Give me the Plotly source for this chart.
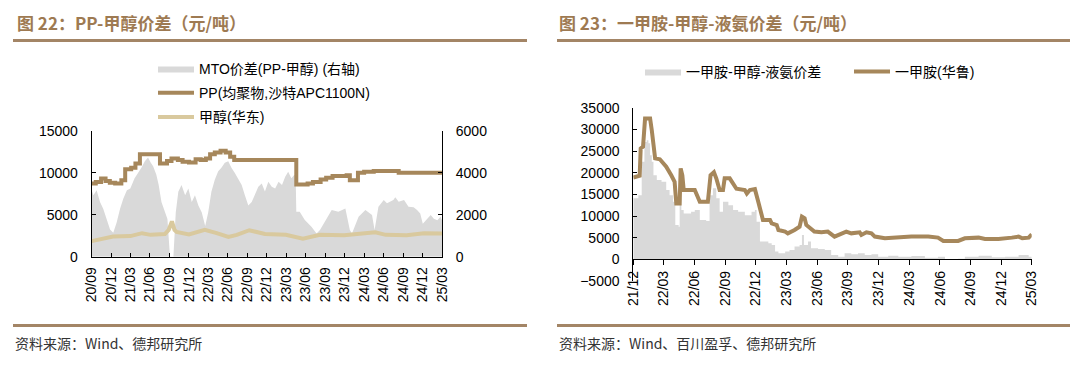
import plotly.graph_objects as go

# ---------------- Left chart data (图22) ----------------
pp_dates = ["2020-09-01", "2020-09-20", "2020-10-15", "2020-11-05", "2020-11-25", "2020-12-20",
            "2021-01-18", "2021-02-05", "2021-03-05", "2021-03-25", "2021-04-15", "2021-07-18",
            "2021-08-20", "2021-09-10", "2021-10-10", "2021-11-01", "2021-12-01", "2022-01-01",
            "2022-01-25", "2022-02-18", "2022-03-10", "2022-04-01", "2022-04-28", "2022-05-22",
            "2022-06-12", "2022-07-01", "2023-04-18", "2023-06-10", "2023-07-05", "2023-08-10",
            "2023-09-05", "2023-10-05", "2023-12-10", "2023-12-25", "2024-02-01", "2024-03-01",
            "2024-04-15", "2024-08-10", "2025-03-01"]
pp_values = [8700, 8900, 9300, 9000, 8800, 8700,
             9100, 10400, 10600, 11100, 12200, 11100,
             11400, 11700, 11500, 11300, 11200, 11600,
             11500, 11700, 12200, 12400, 12600, 12400,
             11900, 11500, 8600, 8700, 8900, 9200,
             9400, 9600, 9700, 9100, 10000, 10100,
             10200, 10000, 10000]

meoh_dates = ["2020-09-01", "2020-10-21", "2020-12-10", "2021-03-01", "2021-04-25", "2021-06-04",
              "2021-08-10", "2021-08-28", "2021-09-12", "2021-09-24", "2021-10-04", "2021-12-01",
              "2022-02-13", "2022-04-10", "2022-06-04", "2022-07-13", "2022-09-10", "2022-11-22",
              "2023-02-28", "2023-05-19", "2023-08-07", "2023-11-28", "2024-02-19", "2024-04-22",
              "2024-06-10", "2024-09-16", "2024-12-07", "2025-03-01"]
meoh_values = [1850, 2150, 2400, 2450, 2800, 2600,
               2700, 3200, 4200, 3200, 2950, 2650,
               3200, 2800, 2350, 2600, 3150, 2700,
               2600, 2150, 2600, 2550, 2700, 2900,
               2600, 2550, 2800, 2750]

mto_dates = ["2020-09-01", "2020-09-09", "2020-09-24", "2020-10-10", "2020-10-25", "2020-11-10",
             "2020-11-26", "2020-12-11", "2020-12-27", "2021-01-12", "2021-01-27", "2021-02-13",
             "2021-03-01", "2021-03-21", "2021-04-07", "2021-04-22", "2021-05-08", "2021-05-23",
             "2021-06-05", "2021-06-16", "2021-07-01", "2021-07-12", "2021-07-25", "2021-08-10",
             "2021-08-22", "2021-09-03", "2021-09-19", "2021-09-30", "2021-10-12", "2021-10-27",
             "2021-11-13", "2021-11-28", "2021-12-14", "2021-12-29", "2022-01-14", "2022-01-30",
             "2022-02-15", "2022-03-01", "2022-03-16", "2022-04-01", "2022-04-17", "2022-05-02",
             "2022-05-18", "2022-06-03", "2022-06-18", "2022-07-04", "2022-07-19", "2022-08-05",
             "2022-08-20", "2022-09-05", "2022-09-21", "2022-10-06", "2022-10-22", "2022-11-07",
             "2022-11-22", "2022-12-08", "2022-12-24", "2023-01-09", "2023-01-25", "2023-02-10",
             "2023-02-25", "2023-03-11", "2023-03-19", "2023-03-26", "2023-04-08", "2023-04-15",
             "2023-04-18", "2023-05-04", "2023-05-28", "2023-06-28", "2023-07-22", "2023-08-07",
             "2023-10-01", "2023-11-01", "2023-12-04", "2023-12-25", "2024-01-04", "2024-02-04",
             "2024-03-07", "2024-04-07", "2024-04-19", "2024-05-07", "2024-06-01", "2024-06-16",
             "2024-07-16", "2024-07-25", "2024-08-10", "2024-09-04", "2024-09-25", "2024-10-19",
             "2024-11-04", "2024-11-19", "2024-12-01", "2024-12-22", "2025-01-07", "2025-01-22",
             "2025-02-07", "2025-02-22", "2025-03-01"]
mto_values = [3170, 2930, 3170, 2600, 2280, 1790,
              1300, 1140, 1630, 2280, 2760, 3170,
              3250, 3740, 3980, 4230, 4550, 4720,
              4470, 4310, 3900, 3410, 2600, 2110,
              1790, 0, 0, 2110, 3090, 3410,
              2930, 3250, 2600, 2930, 2440, 2110,
              1460, 2110, 3090, 3660, 4070, 4230,
              4470, 4550, 4230, 3980, 3740, 3410,
              2930, 2440, 2600, 3000, 3330, 3490,
              3100, 3570, 3330, 3250, 3570, 3410,
              3810, 4050, 3890, 3730, 3890, 3900,
              2140, 2140, 1750, 1430, 1110, 1270,
              2220, 2140, 2300, 1270, 1110, 1900,
              2220, 1985, 1270, 2380, 2700, 2540,
              2700, 2830, 2620, 2700, 2380, 2350,
              2220, 2060, 1570, 1810, 1980, 1810,
              1740, 1900, 1740]

left_tick_dates = ["2020-09-01", "2020-12-01", "2021-03-01", "2021-06-01", "2021-09-01", "2021-12-01",
                   "2022-03-01", "2022-06-01", "2022-09-01", "2022-12-01", "2023-03-01", "2023-06-01",
                   "2023-09-01", "2023-12-01", "2024-03-01", "2024-06-01", "2024-09-01", "2024-12-01",
                   "2025-03-01"]
left_tick_text = ["20/09", "20/12", "21/03", "21/06", "21/09", "21/12", "22/03", "22/06", "22/09",
                  "22/12", "23/03", "23/06", "23/09", "23/12", "24/03", "24/06", "24/09", "24/12",
                  "25/03"]

# ---------------- Right chart data (图23) ----------------
mma_dates = ["2021-12-01", "2021-12-20", "2021-12-23", "2021-12-30", "2022-01-05", "2022-01-20",
             "2022-01-25", "2022-02-02", "2022-02-04", "2022-02-18", "2022-02-28", "2022-03-09",
             "2022-03-24", "2022-04-03", "2022-04-08", "2022-04-18", "2022-04-21", "2022-04-26",
             "2022-04-30", "2022-06-02", "2022-06-17", "2022-07-11", "2022-07-19", "2022-07-29",
             "2022-08-05", "2022-08-15", "2022-08-25", "2022-08-30", "2022-09-14", "2022-09-24",
             "2022-10-04", "2022-10-29", "2022-11-04", "2022-11-13", "2022-11-28", "2022-12-08",
             "2022-12-18", "2022-12-22", "2023-01-12", "2023-01-17", "2023-02-01", "2023-02-06",
             "2023-02-26", "2023-03-06", "2023-03-26", "2023-04-10", "2023-04-17", "2023-04-25",
             "2023-04-30", "2023-05-10", "2023-05-24", "2023-06-14", "2023-07-03", "2023-07-23",
             "2023-08-12", "2023-08-27", "2023-09-11", "2023-10-06", "2023-10-11", "2023-10-26",
             "2023-11-10", "2023-11-20", "2023-12-20", "2024-01-19", "2024-03-08", "2024-04-27",
             "2024-05-26", "2024-06-11", "2024-07-25", "2024-08-14", "2024-09-24", "2024-10-13",
             "2024-11-22", "2025-01-01", "2025-01-21", "2025-02-01", "2025-02-20", "2025-03-01"]
mma_values = [18900, 19300, 25600, 26000, 32500, 32500,
              29800, 25600, 23300, 23100, 22100, 21400,
              19400, 17900, 12900, 12900, 21000, 19400,
              16000, 16000, 13300, 13300, 19400, 20100,
              18700, 16000, 16000, 18700, 18700, 17600,
              16300, 16000, 15200, 16000, 16200, 13300,
              9480, 9100, 9100, 8300, 7930, 6770,
              6400, 6000, 6770, 7540, 9850, 9480,
              7930, 7160, 6400, 6230, 6400, 5250,
              6000, 6400, 6000, 6230, 5620, 6230,
              6000, 5250, 4860, 5010, 5250, 5250,
              5010, 4240, 4240, 4860, 5010, 4700,
              4700, 5010, 5250, 4860, 5010, 5770]

spread_dates = ["2021-12-01", "2021-12-16", "2021-12-26", "2022-01-03", "2022-01-10", "2022-01-15",
                "2022-01-20", "2022-01-25", "2022-01-30", "2022-02-09", "2022-02-23", "2022-03-09",
                "2022-03-19", "2022-03-29", "2022-04-05", "2022-04-15", "2022-04-18", "2022-04-23",
                "2022-04-30", "2022-05-22", "2022-06-02", "2022-06-17", "2022-07-06", "2022-07-16",
                "2022-07-26", "2022-08-05", "2022-08-15", "2022-08-25", "2022-09-10", "2022-09-24",
                "2022-10-09", "2022-10-29", "2022-11-18", "2022-11-28", "2022-12-03", "2022-12-13",
                "2022-12-22", "2023-01-07", "2023-01-17", "2023-01-27", "2023-02-06", "2023-02-26",
                "2023-03-11", "2023-03-26", "2023-04-10", "2023-04-17", "2023-04-23", "2023-05-05",
                "2023-05-14", "2023-06-04", "2023-06-24", "2023-07-13", "2023-08-03", "2023-08-22",
                "2023-09-11", "2023-10-01", "2023-10-21", "2023-11-10", "2023-11-30", "2023-12-30",
                "2024-01-29", "2024-03-08", "2024-04-17", "2024-05-26", "2024-06-16", "2024-07-25",
                "2024-08-14", "2024-09-24", "2024-11-02", "2024-12-12", "2025-01-21", "2025-02-20",
                "2025-03-01"]
spread_values = [14080, 14800, 22500, 27100, 27500, 26800,
                 24000, 22500, 19400, 18300, 17900, 16000,
                 14800, 13300, 7900, 7500, 14100, 11400,
                 10600, 11000, 11400, 9100, 8850, 14800,
                 16400, 14100, 11000, 13300, 12500, 11400,
                 11000, 10200, 11000, 11400, 8700, 4100,
                 4100, 3700, 3300, 1800, 1400, 1800,
                 2150, 2950, 3300, 5600, 3300, 4100,
                 2550, 2400, 2150, 1000, 600, 1400,
                 1150, 1400, 1000, 1150, 600, 850,
                 600, 750, 350, 600, 0, 150,
                 600, 850, 500, 600, 1000, 600,
                 700]

right_tick_dates = ["2021-12-01", "2022-03-01", "2022-06-01", "2022-09-01", "2022-12-01", "2023-03-01",
                    "2023-06-01", "2023-09-01", "2023-12-01", "2024-03-01", "2024-06-01", "2024-09-01",
                    "2024-12-01", "2025-03-01"]
right_tick_text = ["21/12", "22/03", "22/06", "22/09", "22/12", "23/03", "23/06", "23/09", "23/12",
                   "24/03", "24/06", "24/09", "24/12", "25/03"]

# ---------------- Styling ----------------
# The page body keeps its default 8px margin, so the figure is 16px smaller than the window
PAGE_W, PAGE_H, OFF = 1080, 366, 8
W, H = PAGE_W - 2 * OFF, PAGE_H - 2 * OFF
BROWN = "#A6875B"
TAN = "#D9C99E"
GRAY = "#D9D9D9"
TITLE_C = "#9E7A52"
RULE_C = "#A38566"
FONT = "Liberation Sans, Arial, Noto Sans CJK SC"
CJK = "Noto Sans CJK SC"


def px_x(x):
    return (x - OFF) / W


def px_y(y):
    return (H - (y - OFF)) / H


fig = go.Figure()

# Left chart: gray spread on base axis (right side), lines on overlaying axis (left side)
fig.add_trace(go.Scatter(x=mto_dates, y=mto_values, name="MTO价差(PP-甲醇) (右轴)",
                         mode="lines", line=dict(width=0, color=GRAY), fill="tozeroy",
                         fillcolor=GRAY, xaxis="x", yaxis="y", legend="legend",
                         legendgroup="g1"))
fig.add_trace(go.Scatter(x=pp_dates, y=pp_values, name="PP(均聚物,沙特APC1100N)",
                         mode="lines", line=dict(width=4, color=BROWN, shape="hv"),
                         xaxis="x", yaxis="y2", legend="legend", legendgroup="g2"))
fig.add_trace(go.Scatter(x=meoh_dates, y=meoh_values, name="甲醇(华东)",
                         mode="lines", line=dict(width=4, color=TAN),
                         xaxis="x", yaxis="y2", legend="legend", legendgroup="g3"))

# Right chart
fig.add_trace(go.Scatter(x=spread_dates, y=spread_values, name="一甲胺-甲醇-液氨价差",
                         mode="lines", line=dict(width=0, color=GRAY, shape="hv"), fill="tozeroy",
                         fillcolor=GRAY, xaxis="x2", yaxis="y3", legend="legend2"))
fig.add_trace(go.Scatter(x=mma_dates, y=mma_values, name="一甲胺(华鲁)",
                         mode="lines", line=dict(width=4, color=BROWN),
                         xaxis="x2", yaxis="y3", legend="legend2"))

axis_common = dict(showline=True, linecolor="#000000", linewidth=1, showgrid=False,
                   zeroline=False, automargin=False,
                   tickfont=dict(family=FONT, size=14, color="#000000"),
                   tickcolor="#000000")

left_xd = [px_x(91.7), px_x(442)]
left_yd = [px_y(256.7), px_y(130.7)]
right_xd = [px_x(633.3), px_x(1031.7)]
right_yd = [px_y(281.0), px_y(107.7)]

fig.update_layout(
    width=W, height=H, margin=dict(l=0, r=0, t=0, b=0, autoexpand=False),
    paper_bgcolor="white", plot_bgcolor="rgba(0,0,0,0)",
    xaxis=dict(domain=left_xd, anchor="y", type="date",
               range=["2020-09-01", "2025-03-01"], tickvals=left_tick_dates,
               ticktext=left_tick_text, tickangle=-90, ticks="inside", ticklen=4,
               ticklabelstandoff=4, **axis_common),
    yaxis=dict(domain=left_yd, anchor="x", side="right", range=[0, 6000],
               tickvals=[0, 2000, 4000, 6000], tickformat="d", ticks="inside", ticklen=4,
               ticklabelstandoff=10, **axis_common),
    yaxis2=dict(overlaying="y", anchor="x", side="left", range=[0, 15000],
                tickvals=[0, 5000, 10000, 15000], tickformat="d", ticks="inside", ticklen=4,
                ticklabelstandoff=10, **axis_common),
    xaxis2=dict(domain=right_xd, anchor="free", position=px_y(259.3), type="date",
                range=["2021-12-01", "2025-03-01"], tickvals=right_tick_dates,
                ticktext=right_tick_text, tickangle=-90, ticks="outside", ticklen=5,
                **axis_common),
    yaxis3=dict(domain=right_yd, anchor="x2", range=[-5000, 35000],
                tickvals=[-5000, 0, 5000, 10000, 15000, 20000, 25000, 30000, 35000],
                tickformat="d", ticks="inside", ticklen=4, ticklabelstandoff=10, **axis_common),
    legend=dict(orientation="v", x=px_x(153), y=px_y(53), xanchor="left", yanchor="top",
                traceorder="grouped", tracegroupgap=3, itemwidth=36,
                font=dict(family=FONT, size=14, color="#000000"),
                bgcolor="rgba(0,0,0,0)"),
    legend2=dict(orientation="h", x=px_x(640), y=px_y(56), xanchor="left", yanchor="top",
                 itemwidth=36, entrywidth=158,
                 font=dict(family=FONT, size=14, color="#000000"),
                 bgcolor="rgba(0,0,0,0)"),
    showlegend=True,
)

# Titles
fig.add_annotation(text="图 22：PP-甲醇价差（元/吨）", x=px_x(15), y=px_y(22), xref="paper",
                   yref="paper", xanchor="left", yanchor="middle", showarrow=False,
                   font=dict(family=CJK, size=17, color=TITLE_C, weight="bold"))
fig.add_annotation(text="图 23：一甲胺-甲醇-液氨价差（元/吨）", x=px_x(557), y=px_y(22), xref="paper",
                   yref="paper", xanchor="left", yanchor="middle", showarrow=False,
                   font=dict(family=CJK, size=17, color=TITLE_C, weight="bold"))
# Footers
fig.add_annotation(text="资料来源：Wind、德邦研究所", x=px_x(13), y=px_y(343), xref="paper",
                   yref="paper", xanchor="left", yanchor="middle", showarrow=False,
                   font=dict(family=CJK, size=14, color="#333333"))
fig.add_annotation(text="资料来源：Wind、百川盈孚、德邦研究所", x=px_x(557), y=px_y(343), xref="paper",
                   yref="paper", xanchor="left", yanchor="middle", showarrow=False,
                   font=dict(family=CJK, size=14, color="#333333"))

# Rules
for (x0, x1) in [(13, 527), (557, 1070)]:
    for yy in (40.5, 325.5):
        fig.add_shape(type="line", xref="paper", yref="paper", x0=px_x(x0), x1=px_x(x1),
                      y0=px_y(yy), y1=px_y(yy), line=dict(color=RULE_C, width=3))

fig.write_html("out.html", config={"displayModeBar": False})
